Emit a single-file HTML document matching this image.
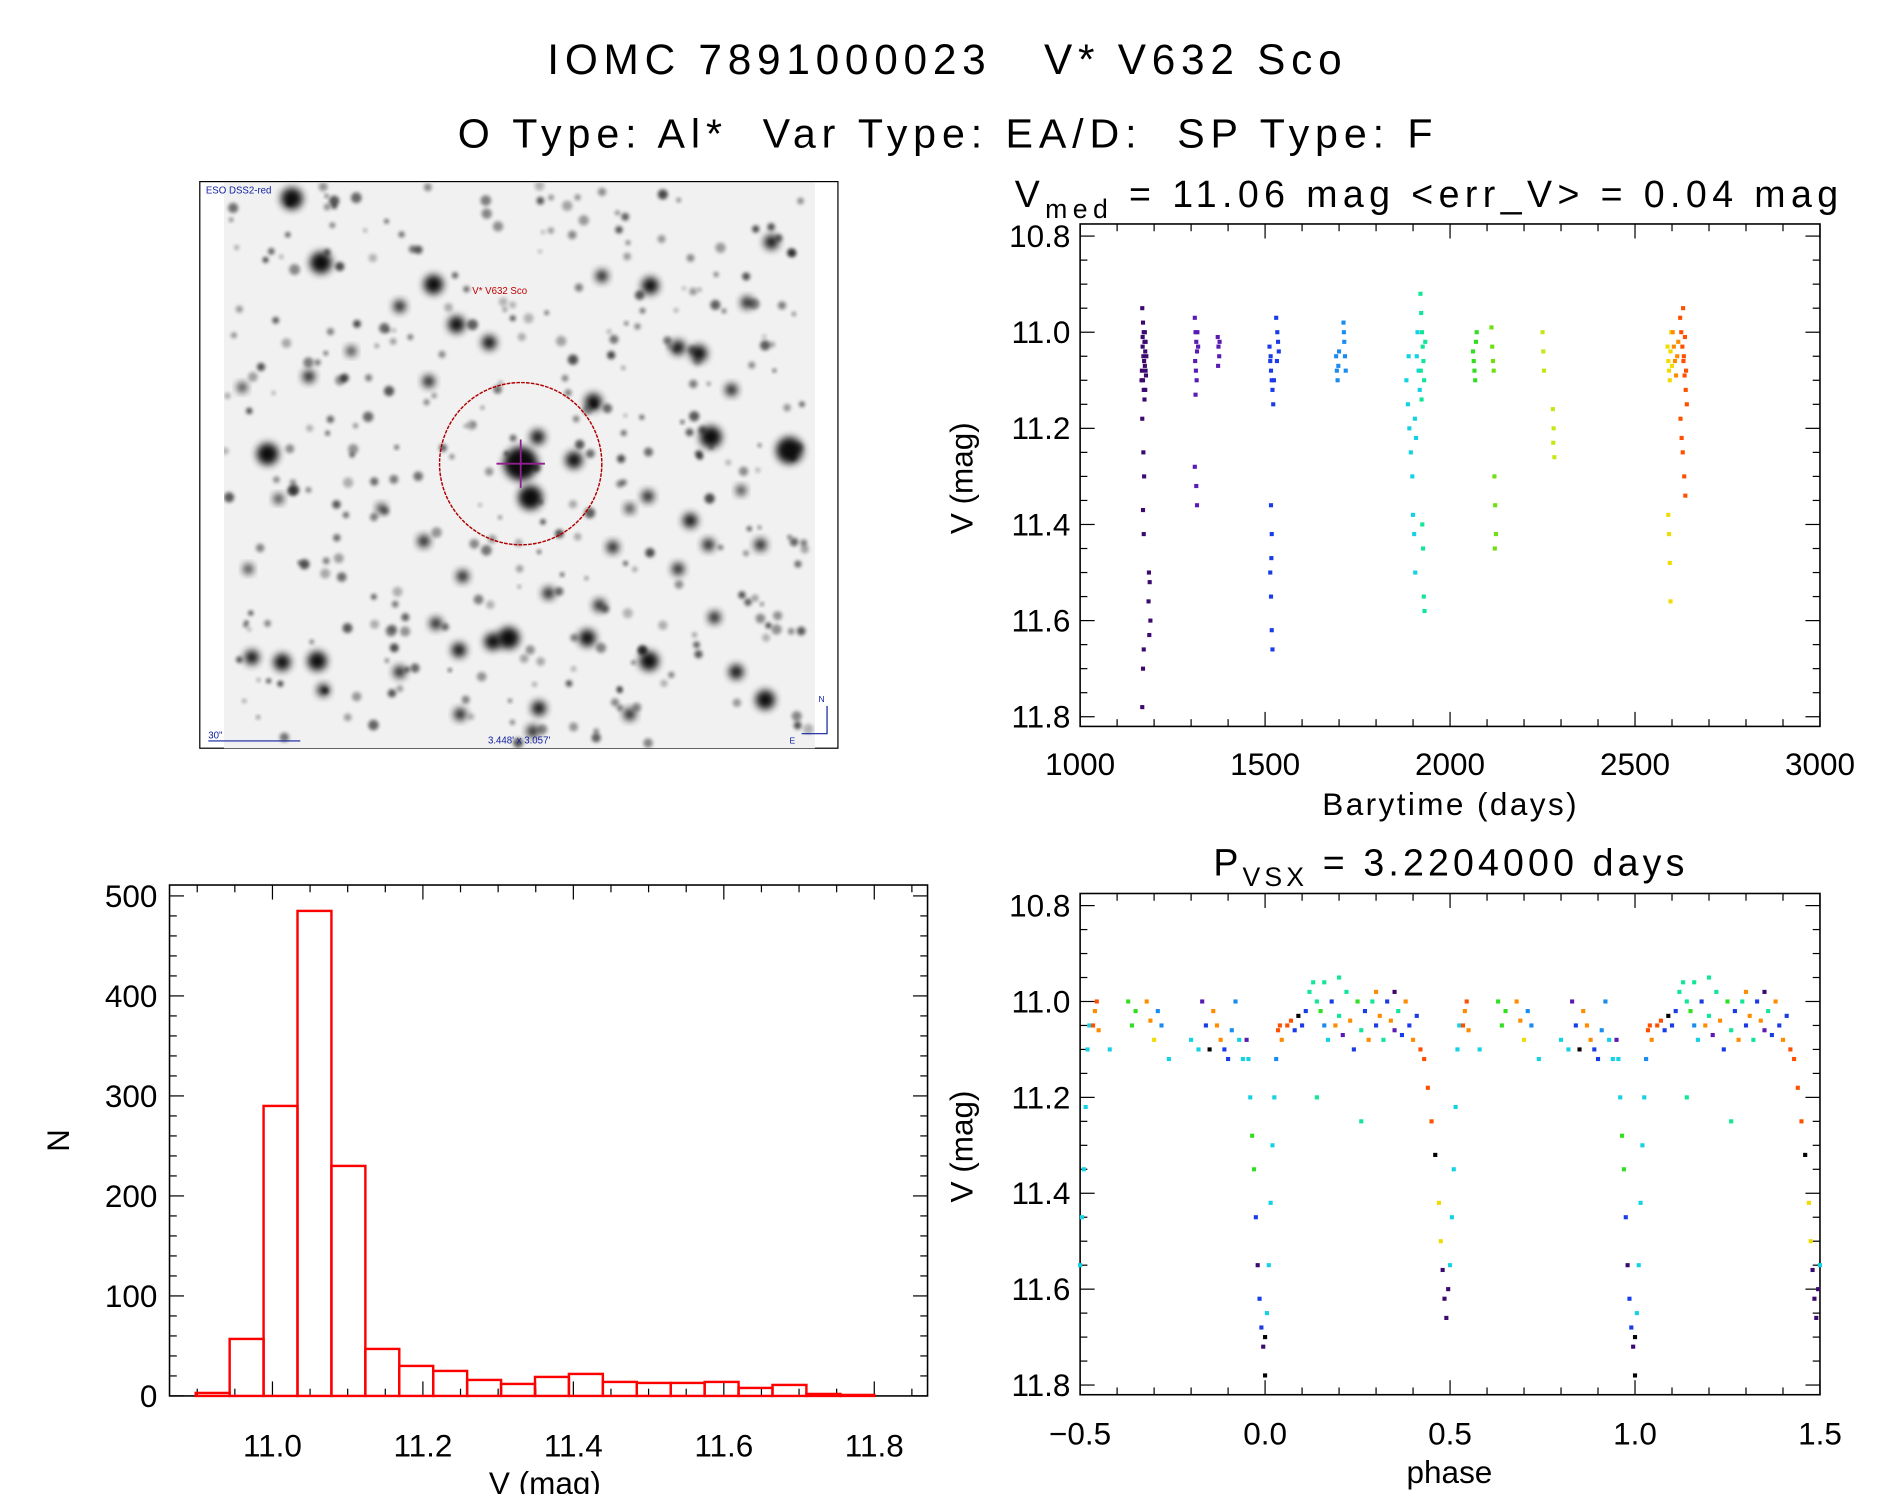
<!DOCTYPE html>
<html><head><meta charset="utf-8"><style>
html,body{margin:0;padding:0;background:#fff}
svg{display:block}
text{font-family:"Liberation Sans",sans-serif;fill:#000}
</style></head><body>
<svg id="fig" xmlns="http://www.w3.org/2000/svg" width="1889" height="1494" viewBox="0 0 1560 1234" preserveAspectRatio="none">
<defs>
<filter id="blur" x="-50%" y="-50%" width="200%" height="200%"><feGaussianBlur stdDeviation="3.2"/></filter>
<filter id="blur2" x="-50%" y="-50%" width="200%" height="200%"><feGaussianBlur stdDeviation="1.6"/></filter>
<clipPath id="imgclip"><rect x="185" y="151" width="488" height="467"/></clipPath>
</defs>
<text x="452" y="61" font-size="35" textLength="656" lengthAdjust="spacing" xml:space="preserve">IOMC 7891000023   V* V632 Sco</text>
<text x="378" y="122" font-size="34" textLength="805" lengthAdjust="spacing" xml:space="preserve">O Type: Al*  Var Type: EA/D:  SP Type: F</text>

<g id="img">
<rect x="165" y="150" width="527" height="468" fill="#fff" stroke="#000" stroke-width="1"/>
<rect x="185" y="151" width="488" height="467" fill="#f1f1f1"/>
<g id="stars" clip-path="url(#imgclip)"></g>
<circle cx="430" cy="383" r="67" fill="none" stroke="#b00000" stroke-width="1.2" stroke-dasharray="3,1"/>
<line x1="410" y1="383" x2="450" y2="383" stroke="#902090" stroke-width="1.5"/>
<line x1="430" y1="363" x2="430" y2="403" stroke="#902090" stroke-width="1.5"/>
<text x="390" y="243" font-size="8" style="fill:#c00000">V* V632 Sco</text>
<text x="170" y="160" font-size="8" style="fill:#1020a0">ESO DSS2-red</text>
<text x="172" y="610" font-size="8" style="fill:#1020a0">30"</text>
<line x1="172" y1="612" x2="248" y2="612" stroke="#1020a0"/>
<text x="403" y="614" font-size="8" style="fill:#1020a0">3.448' x 3.057'</text>
<text x="676" y="580" font-size="7" style="fill:#1020a0">N</text>
<text x="652" y="614" font-size="7" style="fill:#1020a0">E</text>
<polyline points="683,583 683,606 662,606" fill="none" stroke="#1020a0"/>
</g>

<g id="lc"></g>
<g id="ph"></g>
<g id="hist"></g>
</svg>
<script>
// ---------------- data ----------------
const palette = ['#000000','#3c0a6e','#5a1ab4','#1a3ce6','#1a8cf0','#14d2e6','#10e696','#30e020','#70e010','#c8e614','#f0dc00','#ff8c00','#ff5000'];
const lcSeasonColor = [1,2,2,3,4,5,6,7,8,9,10,11,12];
const lcSeasonPoints = [
 [[1168,10.95],[1170,10.98],[1172,11.0],[1174,11.02],[1169,11.03],[1176,11.04],[1171,11.05],[1173,11.06],[1175,11.07],[1167,11.08],[1178,11.09],[1170,11.1],[1172,11.12],[1174,11.14],[1168,11.18],[1171,11.25],[1173,11.3],[1170,11.37],[1172,11.42],[1186,11.5],[1188,11.52],[1185,11.56],[1190,11.6],[1187,11.63],[1172,11.66],[1170,11.7],[1168,11.78],[1175,11.0],[1177,11.02],[1179,11.05],[1166,11.1],[1176,11.12],[1177,11.08],[1169,11.01]],
 [[1310,10.97],[1312,11.0],[1314,11.02],[1316,11.04],[1311,11.06],[1313,11.08],[1315,11.1],[1317,11.0],[1319,11.03],[1312,11.13],[1310,11.28],[1314,11.32],[1316,11.36]],
 [[1372,11.01],[1374,11.03],[1376,11.05],[1373,11.07],[1377,11.02]],
 [[1512,11.03],[1514,11.06],[1516,11.08],[1518,11.1],[1520,11.12],[1522,11.15],[1515,11.05],[1530,10.97],[1533,11.0],[1535,11.02],[1537,11.04],[1532,11.06],[1516,11.36],[1518,11.42],[1514,11.5],[1516,11.55],[1518,11.62],[1520,11.66],[1517,11.47],[1524,11.1]],
 [[1692,11.05],[1694,11.08],[1696,11.1],[1698,11.07],[1712,10.98],[1714,11.02],[1716,11.05],[1718,11.08],[1700,11.04],[1713,11.0]],
 [[1882,11.1],[1886,11.15],[1890,11.2],[1894,11.25],[1888,11.05],[1898,11.3],[1900,11.38],[1903,11.42],[1906,11.5],[1910,11.05],[1912,11.0],[1915,11.08],[1918,11.12],[1905,11.18],[1908,11.22]],
 [[1920,10.92],[1922,10.96],[1924,11.0],[1926,11.03],[1928,11.06],[1930,11.1],[1923,11.14],[1925,11.4],[1927,11.45],[1929,11.55],[1931,11.58],[1921,11.08],[1933,11.02]],
 [[2062,11.04],[2064,11.06],[2066,11.08],[2070,11.02],[2072,11.0],[2068,11.1]],
 [[2112,10.99],[2114,11.03],[2116,11.06],[2118,11.08],[2120,11.3],[2122,11.36],[2124,11.42],[2121,11.45]],
 [[2250,11.0],[2252,11.04],[2254,11.08],[2278,11.16],[2280,11.2],[2282,11.26],[2279,11.23]],
 [[2588,11.03],[2590,11.06],[2592,11.08],[2594,11.1],[2596,11.04],[2598,11.0],[2600,11.07],[2590,11.38],[2592,11.42],[2594,11.48],[2596,11.56]],
 [[2602,11.0],[2605,11.03],[2608,11.06],[2611,11.09],[2614,11.05],[2617,11.02]],
 [[2622,10.97],[2625,11.0],[2628,11.03],[2631,11.06],[2634,11.09],[2637,11.12],[2640,11.15],[2623,11.18],[2626,11.22],[2629,11.25],[2632,11.05],[2635,11.01],[2638,11.08],[2630,10.95],[2633,11.3],[2636,11.34]]
];
// phase-folded points: [phase, mag, colorIndex]
const phasePoints = [
 [0.0,11.78,0],[0.0,11.7,0],[0.995,11.72,1],[0.99,11.68,3],[0.985,11.62,3],[0.98,11.55,1],[0.975,11.45,3],[0.97,11.35,7],[0.965,11.28,7],[0.96,11.2,5],[0.955,11.12,5],[0.95,11.08,2],
 [0.005,11.65,5],[0.01,11.55,5],[0.015,11.42,5],[0.02,11.3,5],[0.025,11.2,5],[0.03,11.12,4],[0.035,11.06,12],[0.04,11.05,12],[0.045,11.08,11],
 [0.06,11.05,12],[0.07,11.04,12],[0.08,11.06,3],[0.09,11.03,0],[0.1,11.05,3],[0.11,11.02,3],[0.12,10.98,6],[0.13,10.96,6],[0.14,11.0,6],[0.15,11.02,7],[0.16,11.05,4],[0.17,11.08,5],[0.18,11.0,3],[0.19,11.05,11],[0.2,11.03,6],[0.21,11.07,2],[0.22,10.98,6],[0.23,11.04,11],[0.24,11.1,3],[0.25,11.0,7],[0.26,11.06,6],[0.27,11.02,3],[0.28,11.08,11],[0.29,11.0,6],[0.3,11.05,3],[0.31,11.03,11],[0.32,11.08,6],[0.33,11.0,3],[0.34,11.04,11],[0.35,11.06,2],[0.36,11.02,6],[0.37,11.07,3],[0.38,11.0,11],[0.39,11.05,3],[0.4,11.08,11],[0.41,11.03,3],[0.42,11.1,12],[0.43,11.12,12],[0.14,11.2,6],[0.26,11.25,6],[0.2,10.95,6],[0.16,10.96,6],[0.3,10.98,11],[0.35,10.98,1],
 [0.44,11.18,12],[0.45,11.25,12],[0.46,11.32,0],[0.47,11.42,10],[0.475,11.5,10],[0.48,11.56,1],[0.485,11.62,1],[0.49,11.66,1],[0.495,11.6,1],[0.5,11.55,5],[0.505,11.45,5],[0.51,11.35,5],[0.515,11.22,5],[0.52,11.1,5],[0.525,11.05,5],
 [0.535,11.05,12],[0.54,11.02,11],[0.545,11.0,12],[0.55,11.06,11],[0.58,11.1,5],[0.63,11.0,7],[0.64,11.05,7],[0.65,11.02,7],[0.68,11.0,11],[0.69,11.04,11],[0.7,11.08,10],[0.71,11.02,4],[0.72,11.05,4],[0.74,11.12,5],[0.8,11.08,5],[0.82,11.1,5],[0.83,11.0,2],[0.84,11.05,3],[0.85,11.1,0],[0.86,11.02,11],[0.87,11.05,11],[0.88,11.08,11],[0.89,11.1,3],[0.9,11.12,3],[0.91,11.06,4],[0.92,11.0,4],[0.93,11.08,5],[0.94,11.12,5]
];
const histBinStart = 10.898;
const histBinWidth = 0.0451;
const histCounts = [3,57,290,485,230,47,30,25,16,12,19,22,14,13,13,14,8,11,2,1];
const lcXTicks = [1000,1500,2000,2500,3000];
const magTicks = [10.8,11.0,11.2,11.4,11.6,11.8];
const phXTicks = [-0.5,0.0,0.5,1.0,1.5];
const histXTicks = [11.0,11.2,11.4,11.6,11.8];
const histYTicks = [0,100,200,300,400,500];

// ---------------- helpers ----------------
const NS='http://www.w3.org/2000/svg';
function mk(parent,tag,attrs,txt){const e=document.createElementNS(NS,tag);for(const k in attrs)e.setAttribute(k,attrs[k]);if(txt!==undefined)e.textContent=txt;parent.appendChild(e);return e;}
function scale(d0,d1,r0,r1){return v=>r0+(v-d0)/(d1-d0)*(r1-r0);}
function frame(g,x0,y0,x1,y1){mk(g,'rect',{x:x0,y:y0,width:x1-x0,height:y1-y0,fill:'none',stroke:'#000','stroke-width':1.3});}
function xTicks(g,sx,y0,y1,lo,hi,major,minor){
  for(let v=Math.ceil(lo/minor-1e-6)*minor;v<=hi+1e-9;v+=minor){
    const isMaj=Math.abs(v/major-Math.round(v/major))<1e-6;const L=isMaj?12:6;const x=sx(v);
    mk(g,'line',{x1:x,x2:x,y1:y1,y2:y1-L,stroke:'#000','stroke-width':1});
    mk(g,'line',{x1:x,x2:x,y1:y0,y2:y0+L,stroke:'#000','stroke-width':1});
  }
}
function yTicks(g,sy,x0,x1,lo,hi,major,minor){
  for(let v=Math.ceil(lo/minor-1e-6)*minor;v<=hi+1e-9;v+=minor){
    const isMaj=Math.abs(v/major-Math.round(v/major))<1e-6;const L=isMaj?12:6;const y=sy(v);
    mk(g,'line',{x1:x0,x2:x0+L,y1:y,y2:y,stroke:'#000','stroke-width':1});
    mk(g,'line',{x1:x1,x2:x1-L,y1:y,y2:y,stroke:'#000','stroke-width':1});
  }
}
function dot(g,x,y,c){const r=mk(g,'rect',{x:x-1.7,y:y-1.7,width:3.4,height:3.4,fill:c});

}

// ---------------- sky image stars ----------------
(function(){
  const st=document.getElementById('stars');
  const big=[[241,164,9],[265,217,9],[358,235,8],[377,268,7],[404,283,6],[537,236,7],[221,375,9],[587,361,9],[652,372,11],[430,383,14],[438,411,10],[444,361,6],[474,380,7],[490,332,7],[262,546,8],[233,547,7],[208,543,6],[536,546,8],[632,578,8],[420,527,9],[407,530,7],[379,537,6],[485,527,7],[570,430,6],[577,292,7],[560,287,6],[617,250,5],[637,200,6],[604,322,5],[354,315,5],[255,311,5],[350,447,5],[230,412,4],[315,420,4],[506,452,5],[495,500,5],[628,450,5],[330,253,5],[497,228,5],[590,510,5],[608,555,6],[382,476,5],[453,490,5],[360,515,5],[330,555,5],[445,585,6],[440,604,5],[380,590,5],[520,590,5],[560,470,5],[267,570,5],[200,320,4],[205,470,4],[290,290,4],[585,450,5],[612,405,4],[520,420,4],[535,410,5]];
  for(const s of big){mk(st,'circle',{cx:s[0],cy:s[1],r:s[2],fill:'#000',filter:'url(#blur)',opacity:0.95});}
  let seed=12345;const rnd=()=>{seed=(seed*1103515245+12345)%2147483648;return seed/2147483648;};
  for(let i=0;i<320;i++){mk(st,'circle',{cx:185+rnd()*488,cy:151+rnd()*467,r:1.5+rnd()*3,fill:'#000',opacity:0.25+rnd()*0.45,filter:'url(#blur2)'});}
})();

// ---------------- light curve ----------------
(function(){
  const g=document.getElementById('lc');
  const X0=892,X1=1503,Y0=185,Y1=600;
  const sx=scale(1000,3000,X0,X1), sy=scale(10.8,11.8,195,592);
  mk(g,'text',{x:838,y:171,'font-size':31,textLength:680,lengthAdjust:'spacing','xml:space':'preserve'}).innerHTML='V<tspan font-size="22" dy="9">med</tspan><tspan dy="-9">  =  11.06  mag  &lt;err_V&gt;  =  0.04  mag</tspan>';
  frame(g,X0,Y0,X1,Y1);
  xTicks(g,sx,Y0,Y1,1000,3000,500,100);
  yTicks(g,sy,X0,X1,10.8,11.8,0.2,0.05);
  for(const v of lcXTicks){const t=mk(g,'text',{x:sx(v),y:640,'font-size':26,'text-anchor':'middle'},String(v));}
  for(const v of magTicks){const t=mk(g,'text',{x:884,y:sy(v)+9,'font-size':26,'text-anchor':'end'},v.toFixed(1));}
  const xl=mk(g,'text',{x:1092,y:673,'font-size':26,textLength:210,lengthAdjust:'spacing'},'Barytime (days)');
  const yl=mk(g,'text',{x:0,y:0,'font-size':26,'text-anchor':'middle',transform:'translate(803,395) rotate(-90)'},'V (mag)');
  lcSeasonPoints.forEach((pts,i)=>{for(const p of pts)dot(g,sx(p[0]),sy(p[1]),palette[lcSeasonColor[i]]);});
})();

// ---------------- phase plot ----------------
(function(){
  const g=document.getElementById('ph');
  const X0=892,X1=1503,Y0=738,Y1=1152;
  const sx=scale(-0.5,1.5,X0,X1), sy=scale(10.8,11.8,748,1144);
  mk(g,'text',{x:1002,y:723,'font-size':31,textLength:389,lengthAdjust:'spacing','xml:space':'preserve'}).innerHTML='P<tspan font-size="22" dy="9">VSX</tspan><tspan dy="-9">  =  3.2204000  days</tspan>';
  frame(g,X0,Y0,X1,Y1);
  xTicks(g,sx,Y0,Y1,-0.5,1.5,0.5,0.1);
  yTicks(g,sy,X0,X1,10.8,11.8,0.2,0.05);
  for(const v of phXTicks){const t=mk(g,'text',{x:sx(v),y:1193,'font-size':26,'text-anchor':'middle'},(v<0?'\u2212':'')+Math.abs(v).toFixed(1));}
  for(const v of magTicks){const t=mk(g,'text',{x:884,y:sy(v)+9,'font-size':26,'text-anchor':'end'},v.toFixed(1));}
  const xl=mk(g,'text',{x:1197,y:1225,'font-size':26,'text-anchor':'middle'},'phase');
  const yl=mk(g,'text',{x:0,y:0,'font-size':26,'text-anchor':'middle',transform:'translate(803,947) rotate(-90)'},'V (mag)');
  for(const p of phasePoints){for(const k of [-1,0,1]){const ph=p[0]+k;if(ph>=-0.5&&ph<=1.5)dot(g,sx(ph),sy(p[1]),palette[p[2]]);}}
})();

// ---------------- histogram ----------------
(function(){
  const g=document.getElementById('hist');
  const X0=140,X1=766,Y0=731,Y1=1153;
  const sx=scale(11.0,11.8,225,722), sy=scale(0,500,1153,740);
  frame(g,X0,Y0,X1,Y1);
  xTicks(g,sx,Y0,Y1,10.9,11.86,0.2,0.05);
  yTicks(g,sy,X0,X1,0,510,100,20);
  for(const v of histXTicks){const t=mk(g,'text',{x:sx(v),y:1203,'font-size':26,'text-anchor':'middle'},v.toFixed(1));}
  for(const v of histYTicks){const t=mk(g,'text',{x:130,y:sy(v)+9,'font-size':26,'text-anchor':'end'},String(v));}
  const xl=mk(g,'text',{x:450,y:1234,'font-size':26,'text-anchor':'middle'},'V (mag)');
  const yl=mk(g,'text',{x:0,y:0,'font-size':26,'text-anchor':'middle',transform:'translate(57,942) rotate(-90)'},'N');
  histCounts.forEach((c,i)=>{const a=histBinStart+i*histBinWidth,b=a+histBinWidth;
    const r=mk(g,'rect',{x:sx(a),y:sy(c),width:sx(b)-sx(a),height:Math.max(0,sy(0)-sy(c)),fill:'none',stroke:'#ff0000','stroke-width':2});
    
    });
})();
</script>
</body></html>
